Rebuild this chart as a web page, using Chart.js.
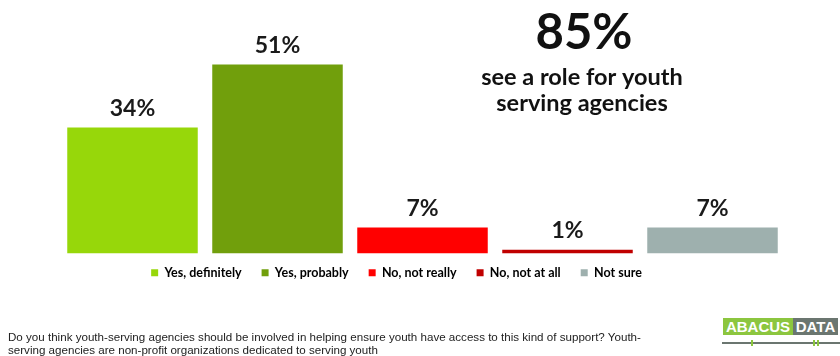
<!DOCTYPE html>
<html>
<head>
<meta charset="utf-8">
<script src="https://cdn.jsdelivr.net/npm/chart.js@4"></script>
<style>
  body { margin: 0; background: #fff; }
  #wrap { position: relative; width: 840px; height: 356px; overflow: hidden; }
  #note {
    position: absolute; left: 8px; top: 330px;
    font-family: "Liberation Sans Narrow", "Liberation Sans", sans-serif;
    font-size: 11.6px; line-height: 13px; color: #222; white-space: nowrap;
  }
  #logo { position: absolute; left: 723px; top: 318px; height: 17px; font-family: "Liberation Sans Narrow", "Liberation Sans", sans-serif; font-weight: bold; font-size: 15px; color: #fff; }
  #logo span { display: inline-block; height: 17px; line-height: 17px; text-align: center; float: left; }
  #logo .a { width: 70px; background: #8cc63f; }
  #logo .d { width: 45px; background: #6b7670; }
  #rule { position: absolute; left: 722px; top: 342px; width: 118px; height: 2px; background: #6b7670; }
  .tick { position: absolute; top: 340px; width: 2px; height: 6px; background: #8cc63f; }
</style>
</head>
<body>
<div id="wrap">
  <canvas id="barChart" width="840" height="356"></canvas>
  <div id="note">Do you think youth-serving agencies should be involved in helping ensure youth have access to this kind of support? Youth-<br>serving agencies are non-profit organizations dedicated to serving youth</div>
  <div id="logo"><span class="a">ABACUS</span><span class="d">DATA</span></div>
  <div id="rule"></div>
  <div class="tick" style="left:751px"></div>
  <div class="tick" style="left:813px"></div>
  <div class="tick" style="left:817px"></div>
</div>
<script>
  const categories = ['Yes, definitely', 'Yes, probably', 'No, not really', 'No, not at all', 'Not sure'];
  const values = [34, 51, 7, 1, 7];
  const barColors = ['#97d70a', '#719f0c', '#ff0000', '#c00000', '#9eb0ae'];
  const headline = '85%';
  const subline = ['see a role for youth', 'serving agencies'];

  // legend sits a bit left of the bars and tucked up under them
  const legendShiftX = -26;
  const legendShiftY = -7;

  const valueLabels = {
    id: 'valueLabels',
    afterDatasetsDraw(chart) {
      const ctx = chart.ctx;
      const meta = chart.getDatasetMeta(0);
      ctx.save();
      ctx.font = 'bold 23px Lato';
      ctx.fillStyle = '#1a1a1a';
      ctx.textAlign = 'center';
      ctx.textBaseline = 'middle';
      meta.data.forEach((bar, i) => {
        ctx.fillText(values[i] + '%', bar.x, bar.y - 19);
      });
      ctx.restore();
    }
  };

  const callout = {
    id: 'callout',
    afterDraw(chart) {
      const ctx = chart.ctx;
      ctx.save();
      ctx.fillStyle = '#111';
      ctx.textAlign = 'center';
      ctx.textBaseline = 'middle';
      ctx.font = 'bold 49px Lato';
      ctx.fillText(headline, 584, 33);
      ctx.font = 'bold 23.5px Lato';
      ctx.fillText(subline[0], 582, 77);
      ctx.fillText(subline[1], 582, 103);
      ctx.restore();
    }
  };

  const moveLegend = {
    id: 'moveLegend',
    afterLayout(chart) {
      const lg = chart.legend;
      lg.left += legendShiftX;
      lg.right += legendShiftX;
      lg.top += legendShiftY;
      lg.bottom += legendShiftY;
    }
  };

  const data = {
    labels: categories,
    datasets: [{
      data: values,
      backgroundColor: barColors,
      borderWidth: 0,
      barPercentage: 0.9,
      categoryPercentage: 1
    }]
  };

  const config = {
    type: 'bar',
    data: data,
    options: {
      responsive: false,
      animation: false,
      layout: { padding: { left: 60, right: 55, top: 31, bottom: 60 } },
      scales: {
        x: { display: false },
        y: { display: false, min: 0, max: 60 }
      },
      plugins: {
        tooltip: { enabled: false },
        legend: {
          position: 'bottom',
          labels: {
            boxWidth: 7,
            boxHeight: 7,
            padding: 20,
            color: '#222',
            font: { family: 'Lato', weight: 'bold', size: 12.5 },
            generateLabels: () => categories.map((c, i) => ({
              text: c,
              fillStyle: barColors[i],
              strokeStyle: barColors[i],
              lineWidth: 0,
              index: i
            }))
          }
        }
      }
    },
    plugins: [valueLabels, callout, moveLegend]
  };

  const barChart = new Chart(document.getElementById('barChart'), config);
</script>
</body>
</html>
